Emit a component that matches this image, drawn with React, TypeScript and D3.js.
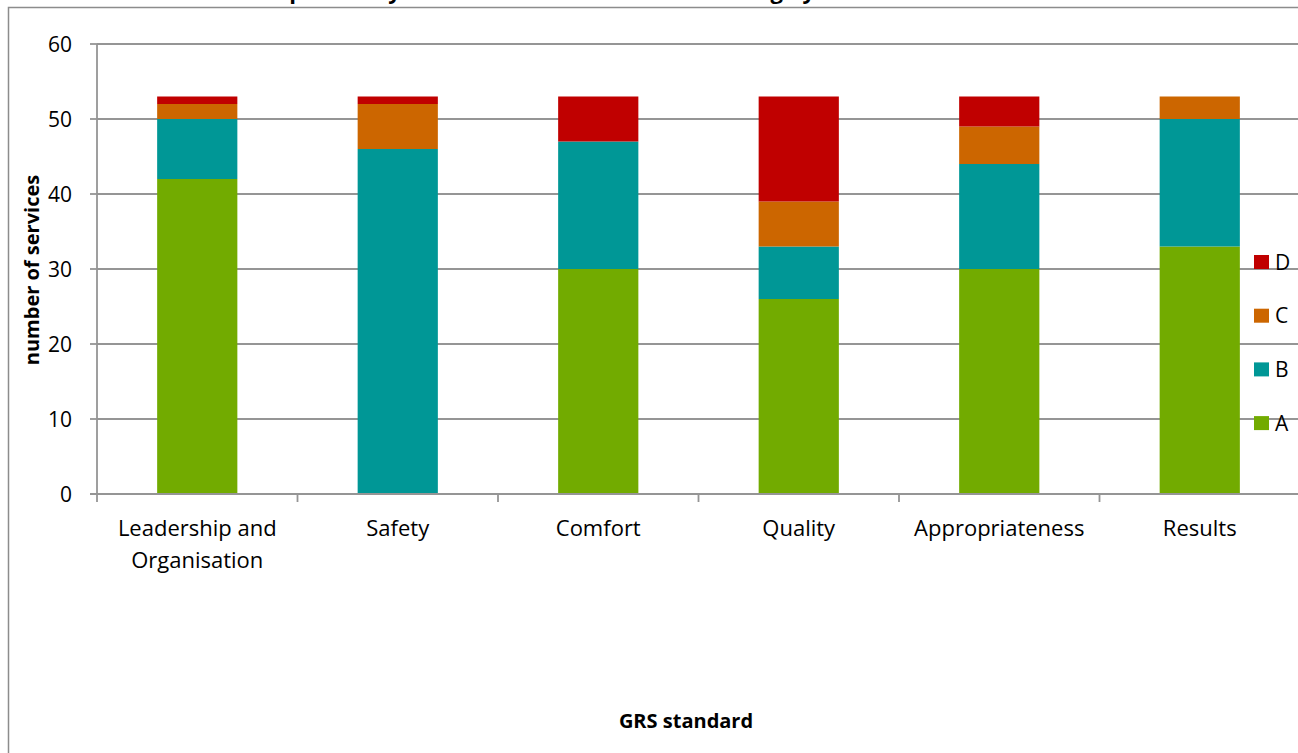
import * as d3 from "d3";

const categories = [
  ["Leadership and", "Organisation"],
  ["Safety"],
  ["Comfort"],
  ["Quality"],
  ["Appropriateness"],
  ["Results"],
];
const seriesKeys = ["A", "B", "C", "D"];
const valuesA = [42, 0, 30, 26, 30, 33];
const valuesB = [8, 46, 17, 7, 14, 17];
const valuesC = [2, 6, 0, 6, 5, 3];
const valuesD = [1, 1, 6, 14, 4, 0];
const seriesColors = ["#72AB00", "#009796", "#CC6600", "#C00000"];
const yTicks = [0, 10, 20, 30, 40, 50, 60];

const W = 1298;
const H = 753;
const FONT = "'Open Sans', 'DejaVu Sans', sans-serif";

export default function App() {
  const left = 97;
  const right = 1300;
  const top = 44;
  const bottom = 494;

  const rows = categories.map((c, i) => ({
    key: c.join(" "),
    A: valuesA[i],
    B: valuesB[i],
    C: valuesC[i],
    D: valuesD[i],
  }));
  const stacked = d3.stack<any>().keys(seriesKeys)(rows);

  const x = d3
    .scaleBand<string>()
    .domain(rows.map((r) => r.key))
    .range([left, right])
    .padding(0);
  const barW = x.bandwidth() * 0.4;
  const y = d3.scaleLinear().domain([0, 60]).range([bottom, top]);
  const color = d3.scaleOrdinal<string, string>().domain(seriesKeys).range(seriesColors);

  const boundaries = d3.range(categories.length + 1).map((i) => left + i * x.step());

  return (
    <svg
      width={W}
      height={H}
      style={{ position: "absolute", left: 0, top: 0, background: "#fff" }}
      fontFamily={FONT}
    >
      {/* title, cut off at the top like the source */}
      <text x={240} y={-1} fontSize={22} fontWeight="bold" fill="#000">
        Compliance by services at each level A to D rating by GRS standard
      </text>

      {/* outer frame */}
      <path d={`M8.5,${H + 5}V7.5H${W + 5}`} fill="none" stroke="#8c8c8c" strokeWidth={1.5} />

      {/* gridlines + y ticks */}
      {yTicks.map((t) => (
        <g key={t}>
          {t > 0 && (
            <line x1={left} x2={W + 5} y1={y(t)} y2={y(t)} stroke="#959595" strokeWidth={1.8} />
          )}
          <line x1={left - 7} x2={left} y1={y(t)} y2={y(t)} stroke="#959595" strokeWidth={1.8} />
          <text
            x={72}
            y={y(t)}
            dy="0.36em"
            textAnchor="end"
            fontSize={21}
            fill="#000"
          >
            {t}
          </text>
        </g>
      ))}

      {/* bars */}
      {stacked.map((s) => (
        <g key={s.key} fill={color(s.key)}>
          {s.map((d, i) =>
            d[1] - d[0] > 0 ? (
              <rect
                key={i}
                x={(x(rows[i].key) as number) + (x.bandwidth() - barW) / 2}
                y={y(d[1])}
                width={barW}
                height={y(d[0]) - y(d[1])}
              />
            ) : null
          )}
        </g>
      ))}

      {/* axes */}
      <line x1={left} x2={left} y1={top} y2={bottom} stroke="#959595" strokeWidth={1.8} />
      <line x1={left - 7} x2={W + 5} y1={bottom} y2={bottom} stroke="#959595" strokeWidth={1.8} />
      {boundaries.map((b, i) => (
        <line key={i} x1={b} x2={b} y1={bottom} y2={bottom + 8} stroke="#959595" strokeWidth={1.8} />
      ))}

      {/* category labels */}
      {categories.map((c, i) => (
        <text
          key={i}
          x={(x(rows[i].key) as number) + x.bandwidth() / 2}
          y={536}
          textAnchor="middle"
          fontSize={22}
          fill="#000"
        >
          {c.map((line, li) => (
            <tspan key={li} x={(x(rows[i].key) as number) + x.bandwidth() / 2} dy={li === 0 ? 0 : 32}>
              {line}
            </tspan>
          ))}
        </text>
      ))}

      {/* axis titles */}
      <text
        transform={`translate(39,270) rotate(-90)`}
        textAnchor="middle"
        fontSize={20}
        fontWeight="bold"
        fill="#000"
      >
        number of services
      </text>
      <text x={686} y={728} textAnchor="middle" fontSize={20} fontWeight="bold" fill="#000">
        GRS standard
      </text>

      {/* legend */}
      {seriesKeys
        .slice()
        .reverse()
        .map((k, i) => (
          <g key={k} transform={`translate(1254,${255 + i * 53.7})`}>
            <rect width={15} height={14} fill={color(k)} />
            <text x={21} y={7} dy="0.36em" fontSize={21} fill="#000">
              {k}
            </text>
          </g>
        ))}
    </svg>
  );
}
